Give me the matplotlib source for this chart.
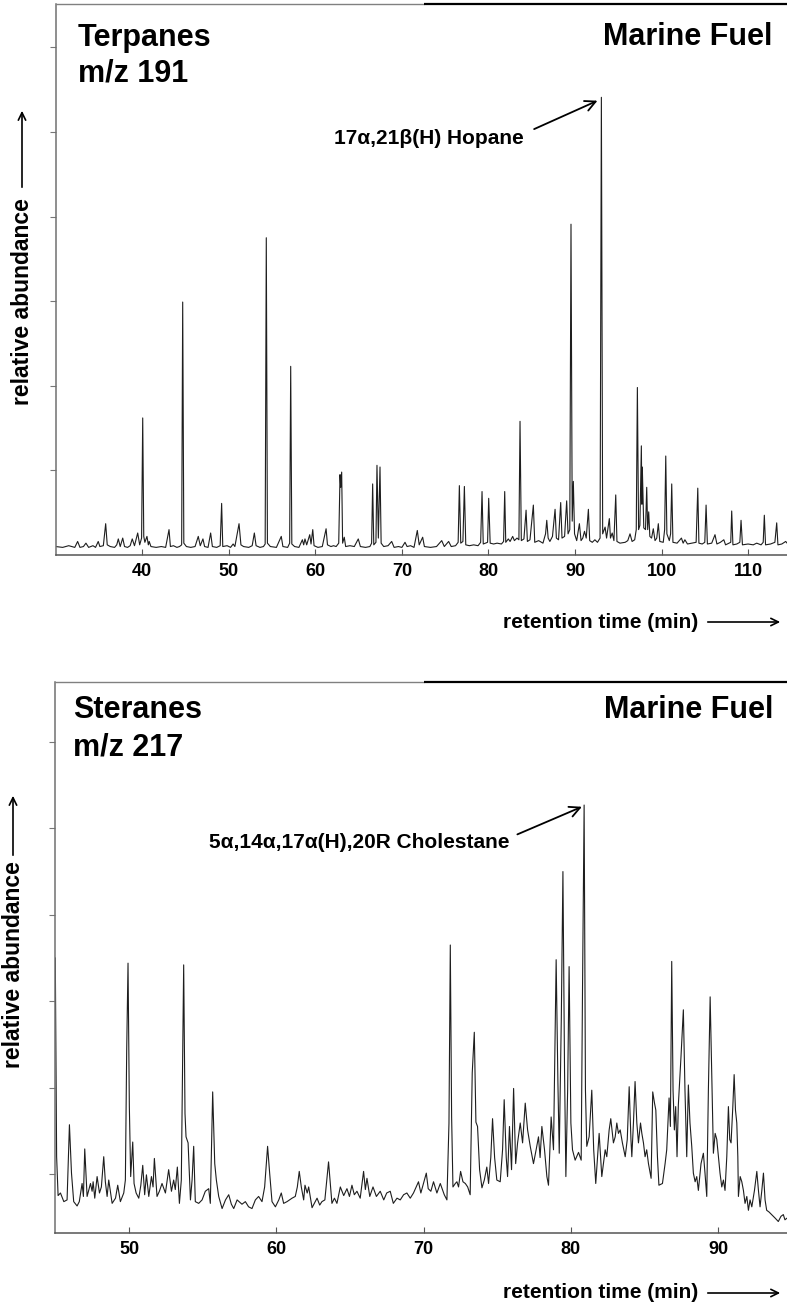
import matplotlib
matplotlib.use('Agg')
import matplotlib.pyplot as plt
import numpy as np

plt.rcParams['font.family'] = ['Liberation Sans', 'DejaVu Sans']

# ---------------- data ----------------
# Terpanes m/z 191 : retention time (min), relative abundance (tick units)
terp_rt = [30.0, 30.8, 31.5, 32.2, 32.53, 32.8, 33.2, 33.49, 33.8, 34.3, 34.6, 34.91, 35.1, 35.5, 35.77, 35.95,
           36.3, 36.8, 37.05, 37.23, 37.45, 37.74, 37.95, 38.3, 38.6, 38.84, 39.1, 39.47, 39.7, 39.92, 40.05, 40.17,
           40.3, 40.54, 40.7, 40.8, 41.0, 41.6, 42.2, 42.7, 43.09, 43.25, 43.6, 44.0, 44.3, 44.55, 44.67, 44.8,
           45.1, 45.6, 46.1, 46.47, 46.7, 47.01, 47.2, 47.6, 47.90, 48.1, 48.6, 49.0, 49.17, 49.3, 49.8, 50.2,
           50.5, 50.7, 51.18, 51.4, 51.7, 52.3, 52.7, 52.95, 53.15, 53.6, 54.0, 54.2, 54.33, 54.46, 54.8, 55.5,
           56.06, 56.25, 56.8, 57.03, 57.15, 57.28, 57.6, 58.1, 58.5, 58.65, 58.8, 59.0, 59.35, 59.5, 59.70, 59.85,
           60.3, 60.8, 61.24, 61.4, 61.8, 62.1, 62.4, 62.7, 62.85, 62.93, 63.04, 63.15, 63.34, 63.5, 64.0, 64.5,
           64.96, 65.2, 65.8, 66.3, 66.5, 66.62, 66.75, 67.0, 67.12, 67.28, 67.47, 67.6, 67.9, 68.4, 68.82, 69.1,
           69.6, 70.0, 70.36, 70.6, 71.0, 71.4, 71.78, 72.0, 72.40, 72.6, 73.3, 74.0, 74.6, 74.9, 75.4, 75.7,
           76.2, 76.5, 76.64, 76.8, 77.05, 77.22, 77.38, 77.8, 78.3, 78.8, 79.1, 79.26, 79.4, 79.9, 80.03, 80.2,
           80.6, 81.0, 81.5, 81.75, 81.88, 82.0, 82.3, 82.5, 82.8, 83.0, 83.3, 83.52, 83.65, 83.8, 84.1, 84.35,
           84.5, 84.8, 85.19, 85.35, 85.8, 86.3, 86.6, 86.74, 86.9, 87.1, 87.4, 87.70, 87.85, 88.1, 88.35, 88.5,
           88.8, 89.04, 89.2, 89.4, 89.54, 89.68, 89.81, 89.95, 90.2, 90.51, 90.7, 90.9, 91.1, 91.3, 91.55, 91.7,
           92.0, 92.3, 92.6, 92.9, 93.05, 93.2, 93.48, 93.65, 93.97, 94.1, 94.3, 94.5, 94.71, 94.85, 95.2, 95.8,
           96.1, 96.36, 96.6, 96.9, 97.08, 97.21, 97.35, 97.5, 97.67, 97.73, 97.78, 97.95, 98.15, 98.29, 98.4, 98.52,
           98.65, 98.85, 99.05, 99.25, 99.45, 99.63, 99.8, 100.2, 100.36, 100.49, 100.62, 100.9, 101.05, 101.18, 101.32, 101.8,
           102.3, 102.5, 102.7, 103.0, 103.5, 104.0, 104.19, 104.32, 104.7, 105.0, 105.15, 105.3, 105.8, 106.18, 106.4, 106.8,
           107.2, 107.4, 107.8, 108.0, 108.11, 108.25, 108.7, 109.05, 109.19, 109.35, 110.0, 110.6, 111.0, 111.5, 111.75, 111.88,
           112.02, 112.6, 113.1, 113.31, 113.45, 113.9, 114.35, 114.6]
terp_ab = [0.10, 0.09, 0.11, 0.09, 0.16, 0.09, 0.10, 0.14, 0.09, 0.11, 0.09, 0.16, 0.10, 0.11, 0.37, 0.12,
           0.10, 0.09, 0.12, 0.19, 0.10, 0.20, 0.10, 0.09, 0.11, 0.19, 0.11, 0.26, 0.12, 0.20, 1.62, 0.22,
           0.15, 0.22, 0.12, 0.16, 0.10, 0.09, 0.10, 0.09, 0.30, 0.10, 0.11, 0.09, 0.10, 0.12, 2.99, 0.14,
           0.10, 0.09, 0.10, 0.22, 0.11, 0.19, 0.10, 0.09, 0.26, 0.10, 0.09, 0.11, 0.61, 0.10, 0.11, 0.09,
           0.13, 0.10, 0.37, 0.12, 0.10, 0.09, 0.11, 0.26, 0.11, 0.09, 0.10, 0.13, 3.75, 0.14, 0.10, 0.09,
           0.22, 0.10, 0.09, 0.14, 2.23, 0.13, 0.10, 0.09, 0.18, 0.12, 0.19, 0.12, 0.24, 0.13, 0.30, 0.11,
           0.09, 0.10, 0.31, 0.12, 0.10, 0.11, 0.10, 0.14, 0.95, 0.80, 0.98, 0.14, 0.21, 0.10, 0.11, 0.10,
           0.19, 0.10, 0.09, 0.10, 0.14, 0.84, 0.12, 0.15, 1.06, 0.20, 1.04, 0.14, 0.10, 0.11, 0.16, 0.09,
           0.10, 0.09, 0.15, 0.10, 0.11, 0.09, 0.29, 0.12, 0.21, 0.10, 0.09, 0.10, 0.17, 0.10, 0.16, 0.10,
           0.11, 0.15, 0.82, 0.14, 0.16, 0.81, 0.12, 0.11, 0.12, 0.11, 0.15, 0.75, 0.13, 0.15, 0.67, 0.14,
           0.13, 0.14, 0.13, 0.16, 0.75, 0.15, 0.19, 0.16, 0.22, 0.17, 0.20, 0.18, 1.58, 0.17, 0.19, 0.53,
           0.16, 0.18, 0.59, 0.15, 0.17, 0.14, 0.25, 0.41, 0.20, 0.16, 0.22, 0.54, 0.20, 0.18, 0.62, 0.20,
           0.22, 0.64, 0.25, 0.30, 3.91, 0.40, 0.87, 0.25, 0.17, 0.37, 0.17, 0.20, 0.28, 0.20, 0.54, 0.17,
           0.15, 0.18, 0.15, 0.20, 5.41, 0.25, 0.33, 0.20, 0.43, 0.20, 0.26, 0.17, 0.71, 0.16, 0.14, 0.15,
           0.17, 0.25, 0.16, 0.18, 0.30, 1.98, 0.30, 0.35, 1.29, 0.60, 1.04, 0.32, 0.30, 0.80, 0.30, 0.51,
           0.22, 0.20, 0.31, 0.17, 0.20, 0.37, 0.16, 0.15, 0.30, 1.17, 0.25, 0.17, 0.25, 0.84, 0.15, 0.14,
           0.20, 0.14, 0.18, 0.13, 0.14, 0.15, 0.79, 0.14, 0.13, 0.15, 0.59, 0.13, 0.14, 0.24, 0.13, 0.15,
           0.18, 0.12, 0.14, 0.15, 0.52, 0.12, 0.13, 0.15, 0.41, 0.12, 0.13, 0.12, 0.14, 0.12, 0.15, 0.47,
           0.12, 0.13, 0.15, 0.38, 0.12, 0.13, 0.16, 0.13]

# Steranes m/z 217
ster_rt = [44.99, 45.08, 45.18, 45.34, 45.57, 45.79, 45.95, 46.09, 46.24, 46.47, 46.62, 46.81, 46.90, 46.99, 47.15, 47.38,
           47.49, 47.56, 47.67, 47.83, 47.99, 48.12, 48.28, 48.39, 48.51, 48.62, 48.85, 49.08, 49.23, 49.41, 49.64, 49.75,
           49.84, 49.93, 50.02, 50.11, 50.25, 50.34, 50.48, 50.66, 50.80, 50.93, 51.06, 51.18, 51.34, 51.52, 51.63, 51.72,
           51.90, 52.06, 52.24, 52.47, 52.69, 52.88, 53.03, 53.14, 53.28, 53.42, 53.55, 53.71, 53.80, 53.87, 54.01, 54.17,
           54.28, 54.39, 54.50, 54.73, 54.96, 55.18, 55.41, 55.52, 55.68, 55.82, 55.93, 56.09, 56.32, 56.55, 56.77, 56.95,
           57.11, 57.34, 57.67, 57.90, 58.12, 58.35, 58.58, 58.80, 59.03, 59.21, 59.41, 59.55, 59.71, 59.94, 60.17, 60.34,
           60.50, 60.73, 61.07, 61.29, 61.43, 61.56, 61.70, 61.86, 61.95, 62.10, 62.20, 62.43, 62.77, 62.95, 63.10, 63.30,
           63.55, 63.78, 63.95, 64.12, 64.35, 64.58, 64.80, 64.97, 65.14, 65.30, 65.48, 65.70, 65.93, 66.05, 66.16, 66.35,
           66.57, 66.80, 67.06, 67.30, 67.50, 67.74, 67.95, 68.20, 68.42, 68.65, 68.87, 69.10, 69.32, 69.50, 69.66, 69.82,
           70.00, 70.19, 70.32, 70.50, 70.68, 70.91, 71.14, 71.41, 71.59, 71.73, 71.82, 71.91, 72.00, 72.16, 72.27, 72.38,
           72.52, 72.68, 72.84, 73.00, 73.17, 73.31, 73.45, 73.56, 73.67, 73.81, 73.97, 74.13, 74.30, 74.42, 74.57, 74.69,
           74.83, 74.98, 75.21, 75.37, 75.48, 75.62, 75.71, 75.84, 75.98, 76.12, 76.26, 76.39, 76.57, 76.73, 76.91, 77.07,
           77.25, 77.47, 77.65, 77.81, 77.92, 78.04, 78.22, 78.38, 78.49, 78.67, 78.83, 79.01, 79.13, 79.22, 79.36, 79.47,
           79.58, 79.67, 79.79, 79.89, 80.01, 80.12, 80.30, 80.53, 80.71, 80.80, 80.91, 81.00, 81.09, 81.25, 81.43, 81.56,
           81.70, 81.81, 81.93, 82.11, 82.34, 82.45, 82.61, 82.72, 82.90, 83.02, 83.13, 83.24, 83.36, 83.51, 83.70, 83.84,
           83.97, 84.09, 84.15, 84.26, 84.37, 84.49, 84.60, 84.74, 84.83, 84.94, 85.05, 85.16, 85.28, 85.46, 85.57, 85.69,
           85.78, 85.89, 85.99, 86.23, 86.41, 86.52, 86.68, 86.77, 86.86, 86.95, 87.04, 87.13, 87.22, 87.31, 87.49, 87.65,
           87.76, 87.88, 87.99, 88.10, 88.22, 88.33, 88.45, 88.56, 88.67, 88.85, 89.01, 89.12, 89.24, 89.35, 89.47, 89.58,
           89.69, 89.81, 89.92, 90.03, 90.14, 90.26, 90.37, 90.48, 90.60, 90.71, 90.80, 90.89, 91.01, 91.10, 91.19, 91.28,
           91.35, 91.39, 91.51, 91.62, 91.73, 91.84, 91.96, 92.07, 92.18, 92.30, 92.48, 92.64, 92.75, 92.86, 92.98, 93.09,
           93.20, 93.31, 93.47, 93.65, 93.88, 94.10, 94.28, 94.44, 94.55, 94.70]
ster_ab = [3.50, 1.20, 0.75, 0.78, 0.68, 0.70, 1.57, 1.01, 0.68, 0.63, 0.68, 0.89, 0.74, 1.29, 0.74, 0.89,
           0.80, 0.91, 0.72, 0.97, 0.78, 0.85, 1.20, 0.91, 0.74, 0.93, 0.66, 0.72, 0.87, 0.68, 0.78, 0.93,
           2.44, 3.44, 1.78, 0.97, 1.37, 0.89, 0.78, 0.72, 0.87, 1.10, 0.76, 0.99, 0.74, 0.97, 0.85, 1.18,
           0.74, 0.80, 0.89, 0.78, 1.05, 0.80, 0.93, 0.82, 1.08, 0.66, 0.93, 3.42, 1.70, 1.43, 1.36, 0.70,
           0.93, 1.32, 0.68, 0.66, 0.70, 0.80, 0.83, 0.66, 1.95, 1.12, 0.93, 0.74, 0.60, 0.70, 0.76, 0.65,
           0.60, 0.70, 0.65, 0.68, 0.62, 0.60, 0.70, 0.74, 0.68, 0.85, 1.32, 1.01, 0.68, 0.62, 0.70, 0.78,
           0.66, 0.68, 0.72, 0.74, 0.85, 1.03, 0.85, 0.70, 0.87, 0.78, 0.85, 0.61, 0.72, 0.64, 0.68, 0.70,
           1.14, 0.66, 0.72, 0.66, 0.85, 0.75, 0.83, 0.74, 0.87, 0.76, 0.80, 0.72, 1.03, 0.82, 0.95, 0.74,
           0.85, 0.74, 0.80, 0.70, 0.78, 0.80, 0.66, 0.72, 0.70, 0.76, 0.78, 0.72, 0.78, 0.85, 0.91, 0.78,
           0.89, 1.01, 0.83, 0.80, 0.91, 0.78, 0.89, 0.76, 0.70, 1.59, 3.65, 1.66, 0.85, 0.89, 0.91, 0.85,
           1.03, 0.91, 0.89, 0.85, 0.76, 2.17, 2.64, 1.60, 1.55, 1.05, 0.84, 0.93, 1.08, 0.89, 1.19, 1.64,
           1.19, 0.93, 0.91, 1.28, 1.86, 1.19, 0.97, 1.55, 1.05, 1.99, 1.12, 1.36, 1.59, 1.36, 1.82, 1.51,
           1.32, 1.12, 1.28, 1.43, 1.19, 1.55, 1.28, 0.97, 0.87, 1.66, 1.28, 3.48, 2.05, 1.24, 2.80, 4.50,
           2.19, 0.97, 1.97, 3.40, 1.59, 1.28, 1.16, 1.25, 1.16, 3.13, 5.27, 1.97, 1.32, 1.43, 1.97, 1.28,
           0.89, 1.16, 1.47, 0.97, 1.28, 1.20, 1.51, 1.64, 1.36, 1.43, 1.59, 1.47, 1.51, 1.36, 1.20, 1.40,
           2.01, 1.40, 1.20, 1.59, 2.07, 1.59, 1.36, 1.59, 1.47, 1.36, 1.20, 1.28, 1.12, 0.95, 1.95, 1.82,
           1.74, 1.20, 0.87, 0.89, 1.12, 1.28, 1.88, 1.55, 3.46, 1.97, 1.51, 1.78, 1.20, 1.80, 2.36, 2.90,
           1.97, 1.20, 2.03, 1.59, 1.32, 1.01, 0.91, 0.97, 0.81, 1.12, 1.24, 1.01, 0.74, 1.97, 3.05, 2.17,
           1.24, 1.47, 1.40, 1.20, 1.01, 0.85, 0.93, 0.81, 1.20, 1.78, 1.40, 1.36, 1.78, 2.15, 1.74, 1.59,
           1.20, 0.74, 0.97, 0.91, 0.81, 0.66, 0.74, 0.58, 0.70, 0.62, 0.81, 1.03, 0.81, 0.62, 0.81, 1.01,
           0.70, 0.58, 0.56, 0.53, 0.49, 0.45, 0.51, 0.53, 0.47, 0.49]

terp_xticks = [40, 50, 60, 70, 80, 90, 100, 110]
ster_xticks = [50, 60, 70, 80, 90]
terp_yticks = [1, 2, 3, 4, 5, 6]
ster_yticks = [1, 2, 3, 4, 5, 6]

# ---------------- figure ----------------
W, H = 787, 1305
fig = plt.figure(figsize=(W / 100, H / 100), dpi=100)


def box(left, top, right, bottom):
    return [left / W, 1 - bottom / H, (right - left) / W, (bottom - top) / H]


def fx(x):
    return x / W


def fy(y):
    return 1 - y / H


ax1 = fig.add_axes(box(56, 4, 787, 555))
ax2 = fig.add_axes(box(55, 682, 787, 1233))

ax1.plot(terp_rt, terp_ab, color='#1e1e1e', lw=0.8)
ax2.plot(ster_rt, ster_ab, color='#1e1e1e', lw=0.8)

ax1.set_xlim(30.03, 114.5)
ax1.set_ylim(0, 6.513)
ax2.set_xlim(44.97, 94.69)
ax2.set_ylim(0.317, 6.694)


def style(ax, xt, yt, black_from):
    ax.set_xticks(xt)
    ax.set_xticklabels([str(v) for v in xt], fontsize=13, fontweight='bold')
    ax.set_yticks(yt)
    ax.set_yticklabels([])
    ax.tick_params(axis='x', direction='in', length=4, width=0.8, color='#555555', pad=6)
    ax.tick_params(axis='y', direction='out', length=4, width=0.8, color='#777777')
    ax.spines['right'].set_visible(False)
    ax.spines['top'].set_visible(False)
    ax.spines['left'].set_color('#707070')
    ax.spines['left'].set_linewidth(1.1)
    ax.spines['bottom'].set_color('#555555')
    ax.spines['bottom'].set_linewidth(1.1)
    ax.plot([0.0, black_from], [1, 1], transform=ax.transAxes, color='#808080', lw=1.0,
            clip_on=False, solid_capstyle='butt')
    ax.plot([black_from, 1.0], [1, 1], transform=ax.transAxes, color='black', lw=1.6,
            clip_on=False, solid_capstyle='butt')


style(ax1, terp_xticks, terp_yticks, (424 - 56) / 731)
style(ax2, ster_xticks, ster_yticks, (424 - 55) / 732)

big = dict(fontsize=22, fontweight='bold', va='baseline')
fig.text(fx(78), fy(46), 'Terpanes', ha='left', **big)
fig.text(fx(78), fy(82), 'm/z 191', ha='left', **big)
fig.text(fx(772), fy(45), 'Marine Fuel', ha='right', **big)
fig.text(fx(73), fy(718), 'Steranes', ha='left', **big)
fig.text(fx(73), fy(755), 'm/z 217', ha='left', **big)
fig.text(fx(773), fy(718), 'Marine Fuel', ha='right', **big)

arrow = dict(arrowstyle='->,head_length=0.45,head_width=0.22', lw=1.2, color='black')

# axis labels with arrows
for xc, yc, ya0, ya1 in [(23, 302, 190, 108), (14, 965, 858, 793)]:
    fig.text(fx(xc), fy(yc), 'relative abundance', rotation=90, ha='center', va='center',
             fontsize=16.5, fontweight='bold')
    fig.add_artist(matplotlib.patches.FancyArrowPatch((fx(xc - 1), fy(ya0)), (fx(xc - 1), fy(ya1)),
                                                      transform=fig.transFigure, mutation_scale=12,
                                                      **arrow))

for yb, ya in [(628, 622), (1298, 1293)]:
    fig.text(fx(503), fy(yb), 'retention time (min)', ha='left', va='baseline',
             fontsize=15, fontweight='bold')
    fig.add_artist(matplotlib.patches.FancyArrowPatch((fx(705), fy(ya)), (fx(783), fy(ya)),
                                                      transform=fig.transFigure, mutation_scale=12,
                                                      **arrow))

# peak annotations
hi = int(np.argmax(terp_ab))
ax1.annotate('17\u03b1,21\u03b2(H) Hopane', xy=(terp_rt[hi] - 0.45, terp_ab[hi] - 0.04), xycoords='data',
             xytext=(fx(334), fy(144)), textcoords='figure fraction', ha='left', va='baseline',
             fontsize=15, fontweight='bold',
             arrowprops=dict(arrowstyle='->,head_length=0.5,head_width=0.25', lw=1.3, color='black',
                             shrinkA=6, shrinkB=0, relpos=(1.0, 0.75)))
ci = int(np.argmax(ster_ab))
ax2.annotate('5\u03b1,14\u03b1,17\u03b1(H),20R Cholestane', xy=(ster_rt[ci] - 0.15, ster_ab[ci] - 0.02),
             xycoords='data', xytext=(fx(209), fy(848)), textcoords='figure fraction', ha='left',
             va='baseline', fontsize=15, fontweight='bold',
             arrowprops=dict(arrowstyle='->,head_length=0.5,head_width=0.25', lw=1.3, color='black',
                             shrinkA=4, shrinkB=0, relpos=(1.0, 0.75)))

fig.savefig('out.png', dpi=100)
